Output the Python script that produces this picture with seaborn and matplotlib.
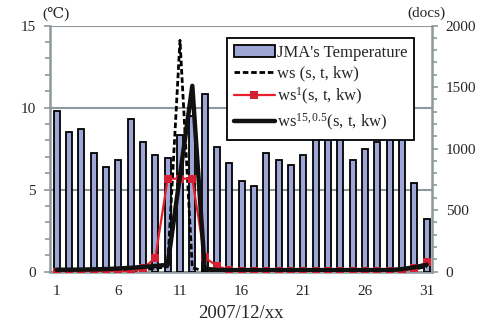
import matplotlib
matplotlib.use("Agg")
import matplotlib.pyplot as plt
import seaborn as sns
import numpy as np
import pandas as pd
from matplotlib.ticker import MultipleLocator, FixedLocator
from matplotlib.patches import Patch
from matplotlib.lines import Line2D

sns.set_theme(style="white")
plt.rcParams['font.family'] = ['Liberation Serif', 'DejaVu Serif']
plt.rcParams['mathtext.fontset'] = 'custom'
plt.rcParams['mathtext.rm'] = 'Liberation Serif'
plt.rcParams['mathtext.it'] = 'Liberation Serif:italic'

days = list(range(1, 32))
temperature = [9.8, 8.5, 8.7, 7.2, 6.4, 6.8, 9.3, 7.9, 7.1, 6.9, 8.3, 9.5, 10.8, 7.6, 6.6,
               5.5, 5.2, 7.2, 6.8, 6.5, 7.1, 9.0, 8.8, 9.6, 6.8, 7.5, 7.9, 8.5, 9.2, 5.4, 3.2]
ws = [5, 5, 5, 5, 5, 5, 5, 15, 25, 40, 1880, 30, 5, 5, 3, 3, 3, 3, 3, 3, 3, 3, 3, 3, 3,
      3, 3, 5, 10, 20, 40]
ws1 = [0, 0, 0, 0, 0, 0, 0, 25, 110, 755, 755, 755, 115, 45, 10, 5, 5, 5, 5, 5, 5, 5, 5,
       5, 5, 5, 5, 5, 5, 25, 75]
ws15 = [15, 15, 16, 18, 20, 25, 30, 38, 45, 55, 780, 1510, 25, 12, 12, 12, 12, 12, 12, 12,
        12, 12, 12, 12, 12, 12, 12, 12, 20, 35, 55]
xticklabels = ["1", "6", "11", "16", "21", "26", "31"]

labels = ["JMA's Temperature", "ws (s, t, kw)", r"ws$^{1}$(s, t, kw)",
          r"ws$^{15,0.5}$(s, t, kw)"]

df = pd.DataFrame({"day": days, "temp": temperature, "ws": ws, "ws1": ws1, "ws15": ws15})
df["pos"] = np.arange(len(days))

GRAY = "#8f989d"
BAR = "#9ea6d6"

fig = plt.figure(figsize=(4.82, 3.26), dpi=100)
ax = fig.add_axes([0.1037, 0.167, 0.7925, 0.7546])

sns.barplot(data=df, x="pos", y="temp", native_scale=True, ax=ax, color=BAR,
            saturation=1, width=0.5, edgecolor="black", linewidth=1.3, zorder=3)
ax.set_ylim(0, 15)
ax.set_xlim(-0.54, 30.43)
ax.yaxis.set_major_locator(FixedLocator([0, 5, 10, 15]))
ax.yaxis.set_minor_locator(MultipleLocator(1))
ax.yaxis.grid(True, which="major", color=GRAY, linewidth=1.5, zorder=0)
ax.set_axisbelow(True)
ax.set_xticks([0, 5, 10, 15, 20, 25, 30])
ax.set_xticklabels(xticklabels)
ax.tick_params(axis="x", length=0, pad=10, labelsize=11)
ax.tick_params(axis="y", which="major", direction="out", length=4, width=1.2,
               color=GRAY, pad=6, labelsize=11, left=True)
ax.tick_params(axis="y", which="minor", direction="out", length=3.5, width=1.2,
               color=GRAY, left=True)
ax.set_xlabel("2007/12/xx", fontsize=13.5, labelpad=5)
ax.set_ylabel("")
for s in ["top", "right"]:
    ax.spines[s].set_visible(False)
for s in ["left", "bottom"]:
    ax.spines[s].set_color(GRAY)
    ax.spines[s].set_linewidth(1.8)

ax2 = ax.twinx()
sns.lineplot(data=df, x="pos", y="ws", ax=ax2, color="black", linewidth=2.0,
             linestyle=(0, (2.0, 1.0)), zorder=4)
sns.lineplot(data=df, x="pos", y="ws1", ax=ax2, color="#e8202a", linewidth=1.6,
             marker="s", markersize=6, markeredgewidth=0, markerfacecolor="#d42030", zorder=5)
sns.lineplot(data=df, x="pos", y="ws15", ax=ax2, color="#111111", linewidth=3.2, zorder=6)
ax2.set_ylim(0, 2000)
ax2.set_xlim(-0.54, 30.43)
ax2.yaxis.set_major_locator(MultipleLocator(500))
ax2.yaxis.set_minor_locator(MultipleLocator(100))
ax2.tick_params(axis="y", which="major", direction="out", length=4, width=1.2,
                color=GRAY, pad=6, labelsize=11, right=True)
ax2.tick_params(axis="y", which="minor", direction="out", length=3.5, width=1.2,
                color=GRAY, right=True)
ax2.set_ylabel("")
ax2.set_xlabel("")
for s in ["top", "left", "bottom"]:
    ax2.spines[s].set_visible(False)
ax2.spines["right"].set_color(GRAY)
ax2.spines["right"].set_linewidth(1.8)

handles = [
    Patch(facecolor=BAR, edgecolor="black", linewidth=1.3),
    Line2D([], [], color="black", linewidth=2.0, linestyle=(0, (2.0, 1.0))),
    Line2D([], [], color="#e8202a", linewidth=1.6, marker="s", markersize=6,
           markeredgewidth=0, markerfacecolor="#d42030"),
    Line2D([], [], color="#111111", linewidth=3.2),
]
leg = ax2.legend(handles, labels, loc="upper right", bbox_to_anchor=(0.953, 0.949),
                 borderaxespad=0, fontsize=12, frameon=True, fancybox=False,
                 framealpha=1, edgecolor="black", handlelength=2.45, handletextpad=0.12,
                 borderpad=0.4, labelspacing=0.28)
leg.get_frame().set_linewidth(1.3)
leg.set_zorder(10)

fig.text(42 / 482, 1 - 14 / 326, "(℃)", fontsize=11, ha="left", va="center")
fig.text(426 / 482, 1 - 13 / 326, "(docs)", fontsize=11, ha="center", va="center")

fig.savefig("out.png", dpi=100)
